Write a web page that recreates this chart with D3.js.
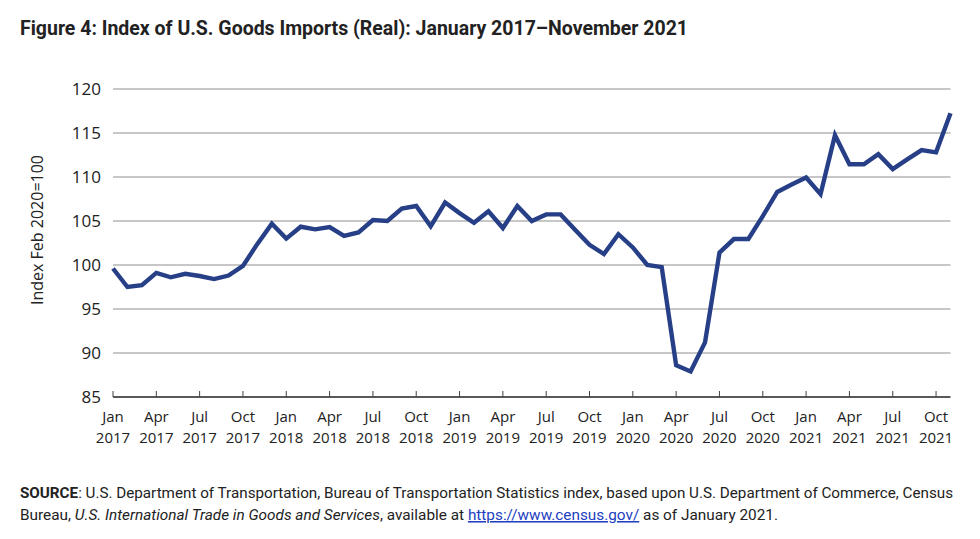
<!DOCTYPE html>
<html>
<head>
<meta charset="utf-8">
<script src="https://cdn.jsdelivr.net/npm/d3@7"></script>
<style>
  html, body { margin: 0; padding: 0; background: #ffffff; }
  svg { display: block; }
</style>
</head>
<body>
<svg id="chart" width="980" height="539"></svg>
<script>
// ---- Data ----
const months = [
  "2017-01","2017-02","2017-03","2017-04","2017-05","2017-06","2017-07","2017-08","2017-09","2017-10","2017-11","2017-12",
  "2018-01","2018-02","2018-03","2018-04","2018-05","2018-06","2018-07","2018-08","2018-09","2018-10","2018-11","2018-12",
  "2019-01","2019-02","2019-03","2019-04","2019-05","2019-06","2019-07","2019-08","2019-09","2019-10","2019-11","2019-12",
  "2020-01","2020-02","2020-03","2020-04","2020-05","2020-06","2020-07","2020-08","2020-09","2020-10","2020-11","2020-12",
  "2021-01","2021-02","2021-03","2021-04","2021-05","2021-06","2021-07","2021-08","2021-09","2021-10","2021-11"
];
const importIndex = [
  99.6, 97.5, 97.7, 99.1, 98.6, 99.0, 98.75, 98.4, 98.8, 99.9, 102.4, 104.7,
  103.0, 104.35, 104.05, 104.3, 103.3, 103.7, 105.1, 105.0, 106.4, 106.7, 104.4, 107.1,
  105.9, 104.8, 106.1, 104.2, 106.7, 105.0, 105.75, 105.75, 104.0, 102.3, 101.25, 103.5,
  102.0, 100.0, 99.75, 88.6, 87.9, 91.2, 101.4, 102.95, 102.95, 105.55, 108.3, 109.15,
  109.95, 108.05, 114.75, 111.45, 111.45, 112.6, 110.9, 112.0, 113.05, 112.8, 117.25
];
const yTicks = [85, 90, 95, 100, 105, 110, 115, 120];
const xTickMonths = [
  "2017-01","2017-04","2017-07","2017-10","2018-01","2018-04","2018-07","2018-10",
  "2019-01","2019-04","2019-07","2019-10","2020-01","2020-04","2020-07","2020-10",
  "2021-01","2021-04","2021-07","2021-10"
];
const monthNames = ["Jan","Feb","Mar","Apr","May","Jun","Jul","Aug","Sep","Oct","Nov","Dec"];
const titleText = "Figure 4: Index of U.S. Goods Imports (Real): January 2017\u2013November 2021";
const yLabel = "Index Feb 2020=100";

// ---- Layout ----
const svg = d3.select("#chart");
const parse = d3.timeParse("%Y-%m");
const data = months.map((m, i) => ({ date: parse(m), value: importIndex[i] }));

// month index scale for uniform spacing
const xi = d3.scaleLinear().domain([0, months.length - 1]).range([113, 950.5]);
const y = d3.scaleLinear().domain([85, 120]).range([397, 89]);

const font = "'Open Sans', 'Noto Sans', sans-serif";
const condensed = "'Liberation Sans Narrow', 'Arial Narrow', 'Roboto', sans-serif";

// Title
svg.append("text")
  .attr("x", 20).attr("y", 34.5)
  .attr("font-family", condensed)
  .attr("font-weight", "bold")
  .attr("font-size", 20.5)
  .attr("textLength", 668)
  .attr("lengthAdjust", "spacingAndGlyphs")
  .attr("fill", "#222")
  .text(titleText);

// Gridlines
svg.append("g").selectAll("line")
  .data(yTicks.filter(t => t !== 85))
  .join("line")
  .attr("x1", 113).attr("x2", 950.5)
  .attr("y1", d => y(d)).attr("y2", d => y(d))
  .attr("stroke", "#b5b5b5").attr("stroke-width", 1.3);

// Y tick labels
svg.append("g").selectAll("text")
  .data(yTicks)
  .join("text")
  .attr("x", 101).attr("y", d => y(d))
  .attr("dy", "0.35em")
  .attr("text-anchor", "end")
  .attr("font-family", font)
  .attr("font-size", 17)
  .attr("fill", "#222")
  .text(d => d);

// Y axis label
svg.append("text")
  .attr("transform", "translate(43,230) rotate(-90)")
  .attr("text-anchor", "middle")
  .attr("font-family", font)
  .attr("font-size", 16)
  .attr("fill", "#222")
  .text(yLabel);

// X axis line + ticks
const xAxisG = svg.append("g");
xAxisG.append("line")
  .attr("x1", 113).attr("x2", 950.5)
  .attr("y1", y(85)).attr("y2", y(85))
  .attr("stroke", "#222").attr("stroke-width", 1.6);
const tickIdx = xTickMonths.map(m => months.indexOf(m));
xAxisG.selectAll("line.tick")
  .data(tickIdx)
  .join("line")
  .attr("class", "tick")
  .attr("x1", d => xi(d)).attr("x2", d => xi(d))
  .attr("y1", y(85)).attr("y2", y(85) - 6)
  .attr("stroke", "#444").attr("stroke-width", 1);

const labels = xAxisG.selectAll("text.xl")
  .data(tickIdx)
  .join("text")
  .attr("class", "xl")
  .attr("text-anchor", "middle")
  .attr("font-family", font)
  .attr("font-size", 15)
  .attr("fill", "#222");
labels.append("tspan")
  .attr("x", d => xi(d)).attr("y", 422)
  .text(d => monthNames[+months[d].slice(5) - 1]);
labels.append("tspan")
  .attr("x", d => xi(d)).attr("y", 443)
  .text(d => months[d].slice(0, 4));

// Line
const line = d3.line()
  .x((d, i) => xi(i))
  .y(d => y(d.value));
svg.append("path")
  .datum(data)
  .attr("d", line)
  .attr("fill", "none")
  .attr("stroke", "#263f86")
  .attr("stroke-width", 4.4)
  .attr("stroke-linejoin", "miter");

// Source note
const line1 = svg.append("text")
  .attr("font-family", condensed)
  .attr("font-size", 15.5)
  .attr("fill", "#222")
  .attr("x", 20).attr("y", 498)
  .attr("textLength", 933)
  .attr("lengthAdjust", "spacingAndGlyphs");
line1.append("tspan").attr("font-weight", "bold").text("SOURCE");
line1.append("tspan").text(": U.S. Department of Transportation, Bureau of Transportation Statistics index, based upon U.S. Department of Commerce, Census");

const line2 = svg.append("text")
  .attr("font-family", condensed)
  .attr("font-size", 15.5)
  .attr("fill", "#222")
  .attr("x", 20).attr("y", 520)
  .attr("textLength", 758)
  .attr("lengthAdjust", "spacingAndGlyphs");
line2.append("tspan").text("Bureau, ");
line2.append("tspan").attr("font-style", "italic").text("U.S. International Trade in Goods and Services");
line2.append("tspan").text(", available at ");
line2.append("tspan").attr("fill", "#2340c0").attr("text-decoration", "underline").text("https://www.census.gov/");
line2.append("tspan").text(" as of January 2021.");
</script>
</body>
</html>
